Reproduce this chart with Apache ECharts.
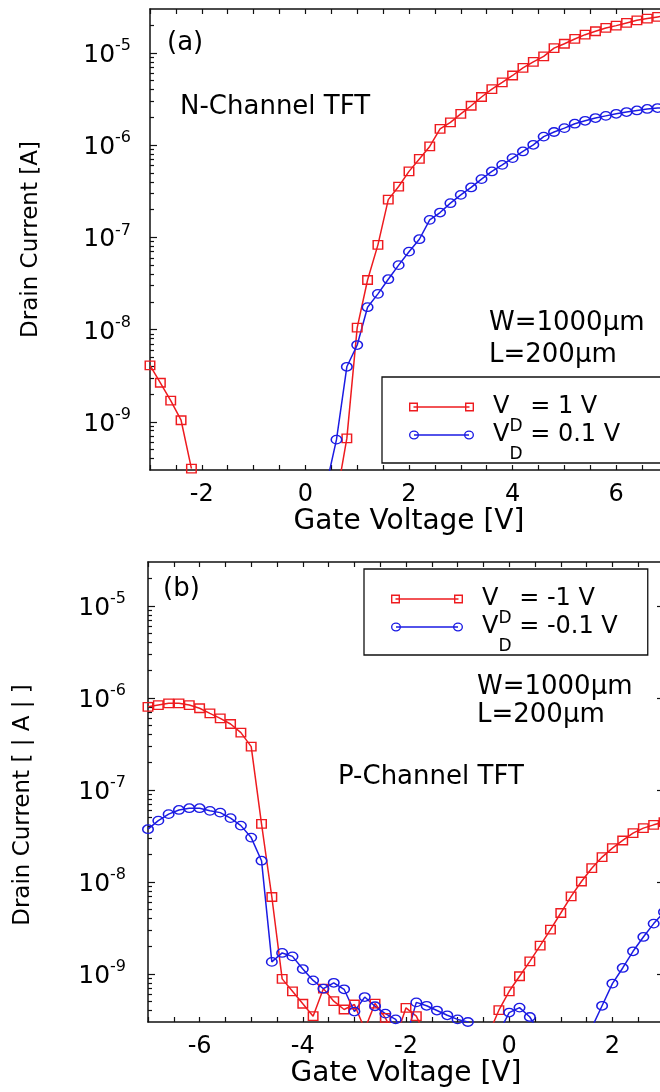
<!DOCTYPE html>
<html>
<head>
    <meta charset="utf-8">
    <title>TFT transfer characteristics</title>
    <script src="https://cdn.jsdelivr.net/npm/echarts@6.0.0/dist/echarts.min.js"></script>
    <style>
        html, body { margin: 0; padding: 0; background: #fff; }
        #chart { width: 660px; height: 1092px; }
    </style>
</head>
<body>
<div id="chart"></div>
<script>
    // gate voltage sweeps [V]
    var gateN = [-3.0, -2.8, -2.6, -2.4, -2.2, -2.0, -1.8, -1.6, -1.4, -1.2, -1.0, -0.8, -0.6, -0.4, -0.2,
        0.0, 0.2, 0.4, 0.6, 0.8, 1.0, 1.2, 1.4, 1.6, 1.8, 2.0, 2.2, 2.4, 2.6, 2.8, 3.0, 3.2, 3.4, 3.6,
        3.8, 4.0, 4.2, 4.4, 4.6, 4.8, 5.0, 5.2, 5.4, 5.6, 5.8, 6.0, 6.2, 6.4, 6.6, 6.8, 7.0];
    var gateP = [-7.0, -6.8, -6.6, -6.4, -6.2, -6.0, -5.8, -5.6, -5.4, -5.2, -5.0, -4.8, -4.6, -4.4, -4.2,
        -4.0, -3.8, -3.6, -3.4, -3.2, -3.0, -2.8, -2.6, -2.4, -2.2, -2.0, -1.8, -1.6, -1.4, -1.2, -1.0,
        -0.8, -0.6, -0.4, -0.2, 0.0, 0.2, 0.4, 0.6, 0.8, 1.0, 1.2, 1.4, 1.6, 1.8, 2.0, 2.2, 2.4, 2.6, 2.8, 3.0];

    // drain current [A] (null = no point)
    var nCh1V = [4.1e-9, 2.65e-9, 1.7e-9, 1.04e-9, 3.1e-10,
        null, null, null, null, null, null, null, null, null, null, null, null, null,
        1.5e-10, 6.6e-10, 1.05e-8, 3.45e-8, 8.3e-8, 2.57e-7, 3.56e-7, 5.2e-7, 7.1e-7, 9.7e-7,
        1.5e-6, 1.77e-6, 2.19e-6, 2.68e-6, 3.33e-6, 4.06e-6, 4.8e-6, 5.7e-6, 6.9e-6, 8.0e-6,
        9.2e-6, 1.13e-5, 1.26e-5, 1.42e-5, 1.58e-5, 1.72e-5, 1.87e-5, 1.98e-5, 2.12e-5, 2.26e-5,
        2.36e-5, 2.46e-5, 2.56e-5];
    var nCh01V = [null, null, null, null, null, null, null, null, null, null, null, null, null, null, null, null, null,
        2.0e-10, 6.4e-10, 3.95e-9, 6.8e-9, 1.75e-8, 2.44e-8, 3.52e-8, 5.0e-8, 7.0e-8, 9.55e-8,
        1.55e-7, 1.86e-7, 2.35e-7, 2.89e-7, 3.48e-7, 4.29e-7, 5.19e-7, 6.12e-7, 7.24e-7, 8.55e-7,
        1.01e-6, 1.24e-6, 1.39e-6, 1.53e-6, 1.71e-6, 1.84e-6, 1.97e-6, 2.08e-6, 2.19e-6, 2.29e-6,
        2.38e-6, 2.47e-6, 2.53e-6, 2.57e-6];
    var pCh1V = [8.0e-7, 8.36e-7, 8.73e-7, 8.73e-7, 8.36e-7, 7.71e-7, 6.79e-7, 6.0e-7, 5.2e-7, 4.19e-7, 2.95e-7,
        4.27e-8, 6.85e-9, 8.83e-10, 6.47e-10, 4.74e-10, 3.47e-10, 6.92e-10, 5.05e-10, 4.1e-10, 4.65e-10,
        2.5e-10, 4.76e-10, 3.33e-10, 2.0e-10, 4.28e-10, 3.47e-10, 2.0e-10,
        null, null, null, null, null,
        2.2e-10, 4.03e-10, 6.47e-10, 9.42e-10, 1.37e-9, 2.03e-9, 3.03e-9, 4.59e-9, 6.95e-9, 1.01e-8,
        1.41e-8, 1.86e-8, 2.33e-8, 2.82e-8, 3.39e-8, 3.84e-8, 4.17e-8, 4.47e-8];
    var pCh01V = [3.74e-8, 4.63e-8, 5.45e-8, 6.05e-8, 6.32e-8, 6.32e-8, 5.92e-8, 5.66e-8, 4.93e-8, 4.09e-8, 3.03e-8,
        1.7e-8, 1.35e-9, 1.69e-9, 1.55e-9, 1.13e-9, 8.5e-10, 6.9e-10, 8.0e-10, 6.8e-10, 3.9e-10,
        5.6e-10, 4.45e-10, 3.7e-10, 3.2e-10, 2.0e-10, 4.9e-10, 4.5e-10,
        4.0e-10, 3.55e-10, 3.2e-10, 3.0e-10, 2.2e-10,
        null, 2.3e-10, 3.8e-10, 4.3e-10, 3.4e-10, 2.2e-10, null, null, null, null,
        2.6e-10, 4.5e-10, 7.85e-10, 1.16e-9, 1.76e-9, 2.52e-9, 3.52e-9, 4.7e-9];

    var seriesNames = ['VD = 1 V', 'VD = 0.1 V', 'VD = -1 V', 'VD = -0.1 V'];
    var xTickLabels = [-6, -4, -2, 0, 2, 4, 6];
    var decades = [-9, -8, -7, -6, -5];   // exponents shown on the y axis

    var RED = '#ee1b1f';
    var BLUE = '#1b1be3';
    var FONT = "'DejaVu Sans', sans-serif";
    var INK = '#111';

    // log10 current axis: 3e-10 .. 3e-5
    var yMin = Math.log10(3e-10);
    var yMax = Math.log10(3e-5);
    var minorTicks = [];
    for (var n = -10; n <= -5; n++) {
        for (var k = 2; k <= 9; k++) {
            var t = n + Math.log10(k);
            if (t > yMin && t < yMax) minorTicks.push(t);
        }
    }

    function pairs(xs, ys) {
        return xs.map(function (x, i) {
            return [x, ys[i] == null ? null : Math.log10(ys[i])];
        });
    }

    var lineAxis = {onZero: false, lineStyle: {color: INK, width: 1.5}};
    var tickStyle = {color: INK, width: 1.2};

    function xAxes(grid, min, max, nameGap) {
        var base = {
            type: 'value', gridIndex: grid, min: min, max: max, interval: 0.5,
            splitLine: {show: false}, axisLine: lineAxis,
            axisTick: {inside: true, length: 5, lineStyle: tickStyle}
        };
        return [
            Object.assign({}, base, {
                position: 'bottom',
                name: 'Gate Voltage [V]', nameLocation: 'middle', nameGap: nameGap,
                nameTextStyle: {fontSize: 28, fontFamily: FONT, color: '#000'},
                axisLabel: {
                    margin: 13, fontSize: 24, fontFamily: FONT, color: '#000',
                    formatter: function (v) {
                        var r = Math.round(v * 10) / 10;
                        return xTickLabels.indexOf(r) >= 0 ? String(Math.round(v)) : '';
                    }
                }
            }),
            Object.assign({}, base, {position: 'top', axisLabel: {show: false}})
        ];
    }

    function yAxes(grid, title, labelMargin, nameGap, namePad) {
        var base = {
            type: 'value', gridIndex: grid, min: yMin, max: yMax,
            splitLine: {show: false}, axisLine: lineAxis, axisLabel: {show: false},
            axisTick: {inside: true, length: 7, customValues: decades, lineStyle: tickStyle}
        };
        var minor = {
            axisLine: {show: false, onZero: false},
            axisTick: {inside: true, length: 4, customValues: minorTicks, lineStyle: tickStyle}
        };
        return [
            Object.assign({}, base, {
                position: 'left',
                name: title, nameLocation: 'middle', nameGap: nameGap,
                nameTextStyle: {fontSize: 23, fontFamily: FONT, color: '#000', padding: namePad},
                axisLabel: {
                    show: true, customValues: decades, margin: labelMargin,
                    formatter: function (v) { return '{b|10}{s|' + Math.round(v) + '}'; },
                    rich: {
                        b: {fontSize: 25, fontFamily: FONT, color: '#000', lineHeight: 30, verticalAlign: 'bottom'},
                        s: {fontSize: 16, fontFamily: FONT, color: '#000', verticalAlign: 'top'}
                    }
                }
            }),
            Object.assign({}, base, minor, {position: 'left'}),
            Object.assign({}, base, {position: 'right'}),
            Object.assign({}, base, minor, {position: 'right'})
        ];
    }

    // legend icons: line between two hollow markers
    function squareIcon(w) {
        var s = 9, h = 9, t = 1.4;
        function sq(x0) {
            return 'M' + x0 + ',0 L' + (x0 + s) + ',0 L' + (x0 + s) + ',' + h + ' L' + x0 + ',' + h + ' Z ' +
                'M' + (x0 + t) + ',' + t + ' L' + (x0 + t) + ',' + (h - t) + ' L' + (x0 + s - t) + ',' + (h - t) +
                ' L' + (x0 + s - t) + ',' + t + ' Z ';
        }
        var line = 'M' + (s / 2) + ',3.8 L' + (w - s / 2) + ',3.8 L' + (w - s / 2) + ',5.2 L' + (s / 2) + ',5.2 Z ';
        return 'path://' + sq(0) + line + sq(w - s);
    }

    function circleIcon(w) {
        var rx = 5, ry = 4.5, t = 1.35;
        function ring(cx) {
            var a = rx - t, b = ry - t;
            return 'M' + (cx - rx) + ',' + ry + ' A' + rx + ',' + ry + ' 0 1,1 ' + (cx + rx) + ',' + ry +
                ' A' + rx + ',' + ry + ' 0 1,1 ' + (cx - rx) + ',' + ry + ' Z ' +
                'M' + (cx - a) + ',' + ry + ' A' + a + ',' + b + ' 0 1,0 ' + (cx + a) + ',' + ry +
                ' A' + a + ',' + b + ' 0 1,0 ' + (cx - a) + ',' + ry + ' Z ';
        }
        var line = 'M' + rx + ',3.8 L' + (w - rx) + ',3.8 L' + (w - rx) + ',5.2 L' + rx + ',5.2 Z ';
        return 'path://' + ring(rx) + line + ring(w - rx);
    }

    function legendBox(names, left, top, iconW, padRight) {
        return {
            data: [
                {name: names[0], icon: squareIcon(iconW), itemStyle: {color: RED, borderWidth: 0}},
                {name: names[1], icon: circleIcon(iconW), itemStyle: {color: BLUE, borderWidth: 0}}
            ],
            orient: 'vertical', left: left, top: top,
            itemWidth: iconW, itemHeight: 9, itemGap: -12,
            padding: [18, padRight, 0, 27],
            borderColor: INK, borderWidth: 1.3, backgroundColor: '#fff',
            selectedMode: false,
            formatter: function (name) { return '{v|V}{d|D}{v|' + name.slice(2) + '}'; },
            textStyle: {
                color: '#000', fontFamily: FONT, fontSize: 24, padding: [16, 0, 0, 14],
                rich: {
                    v: {fontSize: 24, fontFamily: FONT, color: '#000', verticalAlign: 'top'},
                    d: {fontSize: 17, fontFamily: FONT, color: '#000', lineHeight: 40, verticalAlign: 'bottom'}
                }
            }
        };
    }

    function curve(name, xs, ys, xi, yi, color, symbol, size) {
        return {
            name: name, type: 'line', xAxisIndex: xi, yAxisIndex: yi,
            data: pairs(xs, ys),
            symbol: symbol, symbolSize: size, showAllSymbol: true,
            itemStyle: {color: 'rgba(0,0,0,0)', borderColor: color, borderWidth: 1.4},
            lineStyle: {color: color, width: 1.5},
            emphasis: {disabled: true}
        };
    }

    function label(text, left, top) {
        return {type: 'text', left: left, top: top, style: {text: text, fontSize: 26, fontFamily: FONT, fill: '#000'}};
    }

    var chart = echarts.init(document.getElementById('chart'));
    chart.setOption({
        animation: false,
        backgroundColor: '#fff',
        textStyle: {fontFamily: FONT},
        grid: [
            {left: 150, top: 9, right: -8, bottom: 622, outerBoundsMode: 'none'},
            {left: 148, top: 562, right: -4, bottom: 70, outerBoundsMode: 'none'}
        ],
        xAxis: xAxes(0, -3, 7, 38).concat(xAxes(1, -7, 3, 38)),
        yAxis: yAxes(0, 'Drain Current [A]', 19, 107, [0, 0, 0, 0])
            .concat(yAxes(1, 'Drain Current [ | A | ]', 22, 113, [0, 26, 0, 0])),
        legend: [
            legendBox([seriesNames[0], seriesNames[1]], 382, 377, 65, 50),
            legendBox([seriesNames[2], seriesNames[3]], 364, 569, 72, 30)
        ],
        graphic: [
            label('(a)', 167, 30),
            label('N-Channel TFT', 180, 94),
            label('W=1000\u03bcm', 489, 310),
            label('L=200\u03bcm', 489, 342),
            label('(b)', 163, 576),
            label('W=1000\u03bcm', 477, 674),
            label('L=200\u03bcm', 477, 702),
            label('P-Channel TFT', 338, 764)
        ],
        series: [
            curve(seriesNames[0], gateN, nCh1V, 0, 0, RED, 'rect', [9.5, 8.5]),
            curve(seriesNames[1], gateN, nCh01V, 0, 0, BLUE, 'circle', [10.5, 8.5]),
            curve(seriesNames[2], gateP, pCh1V, 2, 4, RED, 'rect', [9.5, 8.5]),
            curve(seriesNames[3], gateP, pCh01V, 2, 4, BLUE, 'circle', [10.5, 8.5])
        ]
    });
</script>
</body>
</html>
